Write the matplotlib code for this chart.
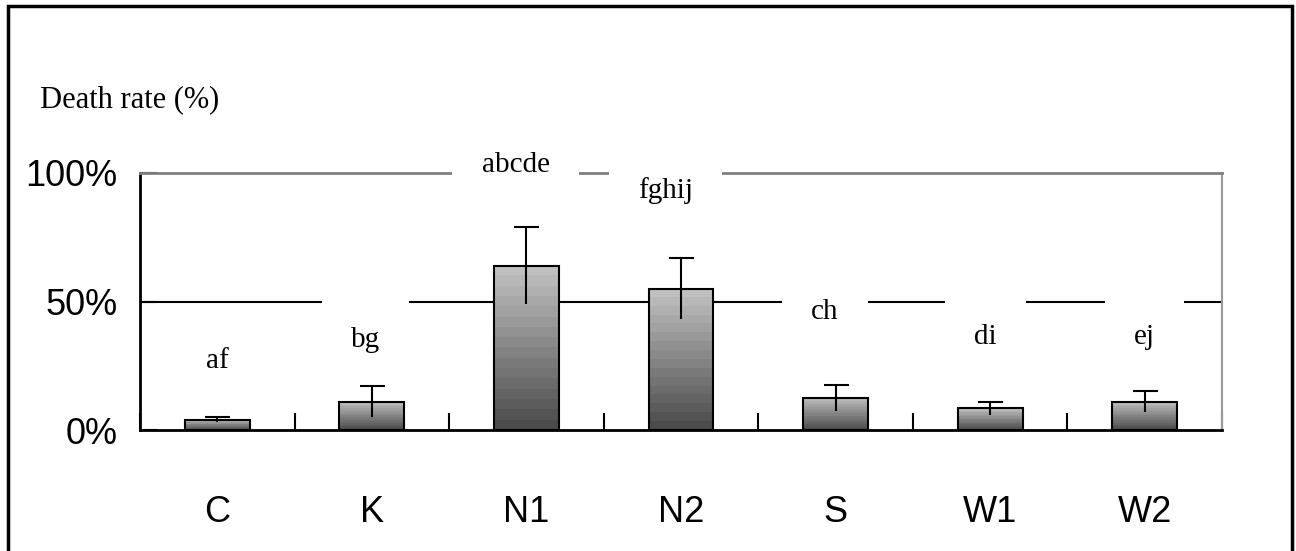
import numpy as np
import matplotlib.pyplot as plt
from matplotlib.patches import Rectangle
from matplotlib import font_manager

# data
groups = ['C', 'K', 'N1', 'N2', 'S', 'W1', 'W2']
death_rate = [4, 11, 64, 55, 12.5, 8.5, 11]   # %
err = [1, 6, 15, 12, 5, 2.5, 4]
letters = ['af', 'bg', 'abcde', 'fghij', 'ch', 'di', 'ej']
letter_x = [0.0, 0.96, 1.93, 2.9, 3.93, 4.97, 6.0]
letter_y = [27, 35, 103, 93, 46, 36, 36]
yticks = [0, 50, 100]
ytick_labels = ['0%', '50%', '100%']

names = {f.name for f in font_manager.fontManager.ttflist}
sans = 'Liberation Sans Narrow' if 'Liberation Sans Narrow' in names else 'Liberation Sans'
serif = 'Liberation Serif'

fig = plt.figure(figsize=(12.96, 5.51), dpi=100)
ax = fig.add_axes([140/1296, 1-430/551, (1222-140)/1296, (430-173)/551])

x = np.arange(len(groups))
bw = 0.42
bars = ax.bar(x, death_rate, width=bw, facecolor='none', edgecolor='black', lw=1.5, zorder=3)

# stepped grey gradient in each bar
grad = np.linspace(0.75, 0.3, 16).reshape(-1, 1)
for b in bars:
    x0, y0 = b.get_x(), b.get_y()
    im = ax.imshow(grad, cmap='gray', vmin=0, vmax=1, aspect='auto', interpolation='nearest',
                   extent=[x0, x0 + b.get_width(), y0, y0 + b.get_height()], zorder=2)
    im.set_clip_path(b)

# error bars, cap only on top
ax.vlines(x, np.array(death_rate) - err, np.array(death_rate) + err, color='black', lw=1.5, zorder=4)
ax.plot(x, np.array(death_rate) + err, ls='none', marker='_', ms=18, mew=1.5, color='black', zorder=4)

ax.set_xlim(-0.5, len(groups) - 0.5)
ax.set_ylim(0, 100)
ax.axhline(50, color='black', lw=1.5, zorder=1)

for s in ['left', 'bottom']:
    ax.spines[s].set_linewidth(2)
ax.spines['top'].set_color('#808080')
ax.spines['top'].set_linewidth(2)
ax.spines['right'].set_color('#999999')
ax.spines['right'].set_linewidth(1.5)

ax.set_yticks(yticks)
ax.set_yticklabels(ytick_labels, fontsize=26, family=sans)
ax.tick_params(axis='y', direction='in', length=12, width=1.5, pad=16)
ax.set_xticks(np.arange(-0.5, len(groups)), minor=False)
ax.set_xticklabels([])
ax.tick_params(axis='x', direction='in', length=12, width=1.5)
ax.set_xticks(x, minor=True)
ax.set_xticklabels(groups, minor=True, fontsize=26, family=sans)
ax.tick_params(axis='x', which='minor', length=0, pad=47)

for xi, yi, lab in zip(letter_x, letter_y, letters):
    ax.text(xi, yi, lab, ha='center', va='center', fontsize=21, family=serif, zorder=5,
            bbox=dict(boxstyle='square,pad=1.0', fc='white', ec='none'), clip_on=False)

fig.text(40/1296, 1-100/551, 'Death rate (%)', fontsize=22, family=serif, va='center', ha='left')

# outer frame
fig.patches.append(Rectangle((8/1296, -0.05), (1292-8)/1296, 1.05-6/551, transform=fig.transFigure,
                             fill=False, ec='black', lw=2.5))

fig.savefig('out.png', dpi=100)
